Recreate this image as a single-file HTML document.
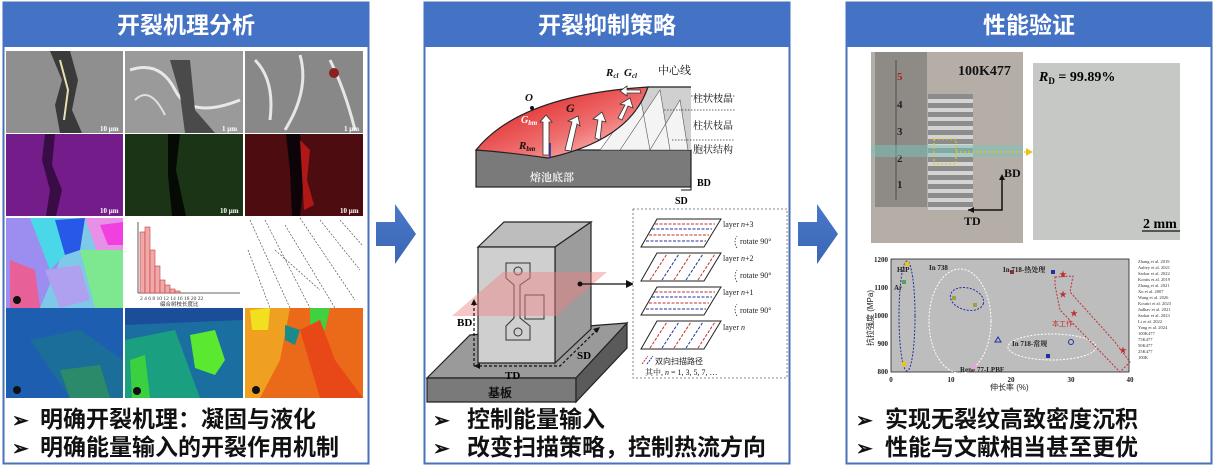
<!DOCTYPE html>
<html><head><meta charset="utf-8"><style>
html,body{margin:0;padding:0;background:#fff;}
body{width:1214px;height:469px;overflow:hidden;position:relative;font-family:"Liberation Sans","Noto Sans CJK SC",sans-serif;}
svg{position:absolute;left:0;top:0;}
.cn{font-family:"Liberation Sans","Noto Sans CJK SC",sans-serif;}
.sf{font-family:"Liberation Serif","Noto Serif CJK SC",serif;}
</style></head><body>
<svg width="1214" height="469" viewBox="0 0 1214 469" xmlns="http://www.w3.org/2000/svg">
<defs>
<linearGradient id="pool2" x1="0" y1="0" x2="1" y2="1"><stop offset="0" stop-color="#d80c0c"/><stop offset="0.6" stop-color="#f07070"/><stop offset="1" stop-color="#fde0e0"/></linearGradient>
<linearGradient id="arr" x1="0" y1="0" x2="0" y2="1"><stop offset="0" stop-color="#4a78c8"/><stop offset="1" stop-color="#3a66b4"/></linearGradient>
<pattern id="stripe" width="6" height="9" patternUnits="userSpaceOnUse"><rect width="6" height="9" fill="#8c8c8c"/><rect width="6" height="4" fill="#d4d4d4"/></pattern>
</defs>

<rect x="3.5" y="2.5" width="365" height="461" fill="#fff" stroke="#4a72b8" stroke-width="2"/>
<rect x="3" y="2" width="366" height="45" fill="#4472c4"/>
<text x="186" y="33" font-size="23" font-weight="bold" fill="#fff" text-anchor="middle" class="cn">开裂机理分析</text>

<rect x="424.5" y="2.5" width="365" height="461" fill="#fff" stroke="#4a72b8" stroke-width="2"/>
<rect x="424" y="2" width="366" height="45" fill="#4472c4"/>
<text x="607" y="33" font-size="23" font-weight="bold" fill="#fff" text-anchor="middle" class="cn">开裂抑制策略</text>

<rect x="846.5" y="2.5" width="365" height="461" fill="#fff" stroke="#4a72b8" stroke-width="2"/>
<rect x="846" y="2" width="366" height="45" fill="#4472c4"/>
<text x="1029" y="33" font-size="23" font-weight="bold" fill="#fff" text-anchor="middle" class="cn">性能验证</text>

<polygon points="376,222 395,222 395,204 416,234 395,264 395,246 376,246" fill="url(#arr)"/>
<polygon points="798,222 817,222 817,204 838,234 817,264 817,246 798,246" fill="url(#arr)"/>

<g>
<rect x="6" y="51" width="117" height="82" fill="#8f8f8f"/>
<path d="M50,51 L70,51 L78,80 L72,110 L82,133 L60,133 L55,105 L62,80 Z" fill="#3a3a3a"/>
<path d="M60,60 L68,90 L64,120" stroke="#e8e0b0" stroke-width="2" fill="none"/>
<rect x="125" y="51" width="118" height="82" fill="#9a9a9a"/>
<path d="M130,70 Q160,60 175,90 T240,100" stroke="#e8e8e8" stroke-width="3" fill="none"/>
<path d="M170,60 L190,60 L195,110 L215,133 L185,133 L180,95 Z" fill="#4a4a4a"/>
<path d="M135,100 Q150,85 165,115" stroke="#e0e0e0" stroke-width="2" fill="none"/>
<rect x="245" y="51" width="118" height="82" fill="#888"/>
<path d="M255,60 Q275,80 270,120 M300,55 Q310,90 285,130 M330,60 Q345,90 355,130" stroke="#e6e6e6" stroke-width="3" fill="none"/>
<circle cx="334" cy="73" r="5" fill="#8a2020"/>
<rect x="6" y="134" width="117" height="82" fill="#731c8a"/>
<path d="M45,134 L55,134 L52,165 L62,190 L56,216 L46,216 L50,190 L42,160 Z" fill="#3a0c45"/>
<rect x="125" y="134" width="118" height="82" fill="#1c3416"/>
<path d="M168,134 L180,134 L176,170 L186,216 L172,216 L168,175 Z" fill="#050a05"/>
<rect x="245" y="134" width="118" height="82" fill="#4c0c10"/>
<path d="M286,134 L300,134 L305,170 L300,216 L292,216 L290,170 Z" fill="#0c0408"/>
<path d="M300,140 L310,150 L307,180 L314,205 L304,210 Z" fill="#b01818"/>
<g font-size="7" fill="#fff" class="sf" font-weight="bold"><text x="100" y="213">10 μm</text><text x="220" y="213">10 μm</text><text x="340" y="213">10 μm</text><text x="100" y="131">10 μm</text><text x="222" y="131">1 μm</text><text x="344" y="131">1 μm</text></g>
<rect x="6" y="218" width="117" height="90" fill="#7ec8e8"/>
<polygon points="6,218 40,218 60,260 40,308 6,308" fill="#9b8ef0"/>
<polygon points="30,218 60,218 70,250 50,270" fill="#4ad8e8"/>
<polygon points="55,220 85,218 80,250 65,255" fill="#2858e8"/>
<polygon points="85,218 123,218 123,250 100,260" fill="#e890e8"/>
<polygon points="80,250 123,250 123,308 95,308" fill="#7ee890"/>
<polygon points="10,260 35,270 40,308 10,308" fill="#e86098"/>
<polygon points="45,270 80,265 90,300 60,308" fill="#b0a0f0"/>
<polygon points="100,225 123,222 123,245 108,245" fill="#f040e0"/>
<circle cx="17" cy="300" r="4" fill="#111"/>
<rect x="125" y="218" width="118" height="90" fill="#fff"/>
<line x1="138" y1="222" x2="138" y2="293" stroke="#333" stroke-width="0.8"/>
<line x1="138" y1="293" x2="240" y2="293" stroke="#333" stroke-width="0.8"/>
<g fill="#f0a8a8" stroke="#c04040" stroke-width="0.6">
<rect x="140" y="232" width="5" height="61"/><rect x="145" y="227" width="5" height="66"/><rect x="150" y="250" width="5" height="43"/><rect x="155" y="266" width="5" height="27"/><rect x="160" y="280" width="5" height="13"/><rect x="165" y="285" width="5" height="8"/><rect x="170" y="289" width="5" height="4"/><rect x="175" y="291" width="5" height="2"/></g>
<text x="140" y="300" font-size="5.5" fill="#333" class="sf">2 4 6 8 10 12 14 16 18 20 22</text>
<text x="160" y="306" font-size="5.5" fill="#333" class="cn">缀合树枝长度比</text>
<rect x="245" y="218" width="118" height="90" fill="#fff"/>
<g stroke="#555" stroke-width="0.7" stroke-dasharray="2 1.5" fill="none">
<path d="M250,220 L290,308"/><path d="M265,220 L310,308"/><path d="M285,225 L335,308"/><path d="M300,218 L355,300"/><path d="M320,220 L360,270"/><path d="M248,250 L270,308"/><path d="M340,220 L362,245"/><path d="M275,250 L320,290"/></g>
<rect x="6" y="308" width="117" height="90" fill="#1e5eb0"/>
<polygon points="30,340 80,330 123,360 123,398 70,398" fill="#1c6e9a"/>
<polygon points="60,370 100,365 110,398 70,398" fill="#2a8a6a"/>
<circle cx="17" cy="390" r="4" fill="#111"/>
<rect x="125" y="308" width="118" height="90" fill="#1a6ea0"/>
<polygon points="125,340 175,330 200,398 125,398" fill="#1aa080"/>
<polygon points="190,335 215,330 225,360 215,375 195,368" fill="#5ae830"/>
<polygon points="130,360 145,355 150,398 132,398" fill="#3ad040"/>
<polygon points="125,308 243,308 243,320 125,325" fill="#1a4e9a"/>
<circle cx="137" cy="391" r="4" fill="#111"/>
<rect x="245" y="308" width="118" height="90" fill="#ea6a1a"/>
<polygon points="245,308 290,308 280,360 260,398 245,398" fill="#f0a020"/>
<polygon points="250,310 270,308 268,330 252,330" fill="#f0e020"/>
<polygon points="310,308 330,308 325,330 310,325" fill="#40d040"/>
<polygon points="285,325 300,330 295,345 285,340" fill="#1a8a8a"/>
<polygon points="300,330 320,320 335,360 363,398 320,398" fill="#e84818"/>
<circle cx="256" cy="390" r="4" fill="#111"/>
</g>
<g font-size="23" font-weight="bold" fill="#111" class="cn">
<text x="12" y="427" font-size="20">➢</text><text x="40" y="427">明确开裂机理：凝固与液化</text>
<text x="12" y="455" font-size="20">➢</text><text x="40" y="455">明确能量输入的开裂作用机制</text>
</g>

<rect x="476" y="150" width="215" height="37" fill="#7a7a7a" stroke="#222" stroke-width="1.2"/>
<rect x="640" y="87" width="51" height="63" fill="#d0d0d0"/>
<path d="M600,150 L640,95 L650,150 Z M620,150 L660,90 L670,150 Z M650,150 L680,100 L688,150 Z" fill="#f4f4f4" stroke="#555" stroke-width="0.6"/>
<path d="M476,150 Q520,95 648,87 Q630,140 548,158 Q505,152 476,150 Z" fill="url(#pool2)" stroke="#222" stroke-width="1.2"/>
<line x1="648" y1="87" x2="691" y2="87" stroke="#222" stroke-width="1.2"/>
<g fill="#fff" stroke="#333" stroke-width="0.8">
<polygon points="543,155 543,122 540,122 546,115 552,122 549,122 549,155"/>
<polygon points="565,150 572,122 568,121 578,116 580,126 577,124 571,151"/>
<polygon points="595,138 598,120 593,119 602,112 606,122 602,121 600,140"/>
<polygon points="618,118 625,105 620,104 630,98 633,108 628,106 622,120"/>
<polygon points="640,90 627,90 627,86 620,91 627,96 627,93 641,93"/>
</g>
<line x1="550" y1="158" x2="550" y2="143" stroke="#1a2ab0" stroke-width="1.5"/>
<circle cx="532" cy="108" r="2" fill="#111"/>
<g class="sf" font-weight="bold" font-style="italic" fill="#111">
<text x="525" y="101" font-size="11">O</text>
<text x="566" y="112" font-size="12">G</text>
<text x="521" y="123" font-size="10" fill="#fff">G<tspan font-size="7" dy="2">bm</tspan></text>
<text x="519" y="149" font-size="11">R<tspan font-size="7" dy="2">bm</tspan></text>
<text x="606" y="76" font-size="11">R<tspan font-size="7" dy="2">cl</tspan></text>
<text x="624" y="76" font-size="11">G<tspan font-size="7" dy="2">cl</tspan></text>
</g>
<text x="530" y="181" font-size="11" font-weight="bold" fill="#eee" class="sf">熔池底部</text>
<text x="658" y="74" font-size="11" fill="#111" class="sf">中心线</text>
<g stroke="#333" stroke-width="0.8" stroke-dasharray="1.5 1.5"><line x1="691" y1="96" x2="735" y2="96"/><line x1="664" y1="110" x2="735" y2="110"/><line x1="672" y1="140" x2="735" y2="140"/></g>
<g font-size="10" fill="#111" class="sf"><text x="693" y="102">柱状枝晶</text><text x="693" y="129">柱状枝晶</text><text x="693" y="153">胞状结构</text></g>
<path d="M681,190 L691,190 L691,178" fill="none" stroke="#111" stroke-width="1"/>
<text x="697" y="186" font-size="10" font-weight="bold" class="sf">BD</text>
<text x="675" y="204" font-size="10" font-weight="bold" class="sf">SD</text>

<polygon points="427,378 470,335 627,323 576,378" fill="#9a9a9a" stroke="#222" stroke-width="1.2"/>
<polygon points="427,378 576,378 576,402 427,402" fill="#7a7a7a" stroke="#222" stroke-width="1.2"/>
<polygon points="576,378 627,323 627,348 576,402" fill="#5a5a5a" stroke="#222" stroke-width="1.2"/>
<text x="488" y="397" font-size="12" font-weight="bold" fill="#111" class="cn">基板</text>
<polygon points="478,247 504,222 591,222 555,247" fill="#bdbdbd" stroke="#222" stroke-width="1.2"/>
<polygon points="555,247 591,222 591,329 555,363" fill="#9c9c9c" stroke="#222" stroke-width="1.2"/>
<rect x="478" y="247" width="77" height="116" fill="#cfcfcf" stroke="#222" stroke-width="1.2"/>
<path d="M506,263 L530,263 L530,278 L520,285 L520,318 L530,326 L530,340 L506,340 L506,326 L514,318 L514,285 L506,278 Z" fill="none" stroke="#333" stroke-width="1"/>
<circle cx="518" cy="271" r="4" fill="none" stroke="#333"/><circle cx="518" cy="332" r="4" fill="none" stroke="#333"/>
<rect x="525" y="295" width="19" height="24" fill="none" stroke="#333"/>
<polygon points="452,316 556,316 607,272 503,272" fill="#f08080" opacity="0.45"/>
<path d="M474,366 L474,303" stroke="#111" stroke-width="1.2" stroke-dasharray="3 2"/><polygon points="471,305 477,305 474,299" fill="#111"/>
<path d="M474,366 L560,366 L597,330" stroke="#111" stroke-width="1.2" stroke-dasharray="3 2" fill="none"/>
<polygon points="474,366 480,363 480,369" fill="#111"/><polygon points="600,327 593,329 597,333" fill="#111"/>
<g font-size="11" font-weight="bold" class="sf"><text x="457" y="326">BD</text><text x="505" y="379">TD</text><text x="577" y="359">SD</text></g>
<circle cx="580" cy="284" r="2.5" fill="#111"/><line x1="580" y1="284" x2="628" y2="284" stroke="#111" stroke-width="1.2"/><polygon points="634,284 626,280 626,288" fill="#111"/>
<rect x="633" y="209" width="154" height="169" fill="#fff" stroke="#666" stroke-width="0.8" stroke-dasharray="2 2"/>
<g stroke="#222" stroke-width="1" fill="#fff">
<polygon points="641,247 657,219 721,219 704,247"/>
<polygon points="641,281 657,253 721,253 704,281"/>
<polygon points="641,315 657,287 721,287 704,315"/>
<polygon points="641,349 657,321 721,321 704,349"/>
</g>
<g stroke-width="1" stroke-dasharray="3 1.5">
<line x1="655" y1="224" x2="715" y2="224" stroke="#c03030"/><line x1="652" y1="229" x2="712" y2="229" stroke="#2030a0"/><line x1="649" y1="235" x2="709" y2="235" stroke="#c03030"/><line x1="646" y1="241" x2="706" y2="241" stroke="#2030a0"/>
<line x1="655" y1="292" x2="715" y2="292" stroke="#c03030"/><line x1="652" y1="297" x2="712" y2="297" stroke="#2030a0"/><line x1="649" y1="303" x2="709" y2="303" stroke="#c03030"/><line x1="646" y1="309" x2="706" y2="309" stroke="#2030a0"/>
<line x1="650" y1="280" x2="667" y2="254" stroke="#c03030"/><line x1="662" y1="280" x2="679" y2="254" stroke="#2030a0"/><line x1="674" y1="280" x2="691" y2="254" stroke="#c03030"/><line x1="686" y1="280" x2="703" y2="254" stroke="#2030a0"/><line x1="698" y1="280" x2="715" y2="254" stroke="#c03030"/>
<line x1="650" y1="348" x2="667" y2="322" stroke="#c03030"/><line x1="662" y1="348" x2="679" y2="322" stroke="#2030a0"/><line x1="674" y1="348" x2="691" y2="322" stroke="#c03030"/><line x1="686" y1="348" x2="703" y2="322" stroke="#2030a0"/><line x1="698" y1="348" x2="715" y2="322" stroke="#c03030"/>
</g>
<g font-size="8" fill="#222" class="sf">
<text x="723" y="227">layer <tspan font-style="italic">n</tspan>+3</text>
<text x="740" y="244">rotate 90°</text>
<text x="723" y="261">layer <tspan font-style="italic">n</tspan>+2</text>
<text x="740" y="278">rotate 90°</text>
<text x="723" y="295">layer <tspan font-style="italic">n</tspan>+1</text>
<text x="740" y="313">rotate 90°</text>
<text x="723" y="330">layer <tspan font-style="italic">n</tspan></text>
<text x="645" y="375">其中, <tspan font-style="italic">n</tspan> = 1, 3, 5, 7, …</text>
</g>
<g stroke="#333" stroke-width="0.8" stroke-dasharray="1.5 1.5" fill="none"><path d="M737,248 Q733,242 737,236"/><path d="M737,282 Q733,276 737,270"/><path d="M737,316 Q733,310 737,304"/></g>
<line x1="642" y1="364" x2="648" y2="356" stroke="#c03030" stroke-dasharray="2 1"/><line x1="647" y1="364" x2="653" y2="356" stroke="#2030a0" stroke-dasharray="2 1"/>
<text x="655" y="364" font-size="8" fill="#222" class="cn">双向扫描路径</text>
<g font-size="23" font-weight="bold" fill="#111" class="cn">
<text x="433" y="427" font-size="20">➢</text><text x="467" y="427">控制能量输入</text>
<text x="433" y="455" font-size="20">➢</text><text x="467" y="455">改变扫描策略，控制热流方向</text>
</g>

<rect x="871" y="52" width="152" height="191" fill="#b4aea6"/>
<rect x="875" y="52" width="52" height="155" fill="#8e8a86"/>
<line x1="896" y1="60" x2="896" y2="200" stroke="#222" stroke-width="0.6"/>
<g font-size="11" font-weight="bold" fill="#222" class="sf"><text x="897" y="80" fill="#b02020">5</text><text x="897" y="108">4</text><text x="897" y="135">3</text><text x="897" y="162">2</text><text x="897" y="188">1</text></g>
<rect x="928" y="94" width="45" height="116" fill="url(#stripe)"/>
<rect x="871" y="145" width="152" height="12" fill="#7ac4b8" opacity="0.5"/>
<rect x="934" y="139" width="22" height="25" fill="none" stroke="#f0c020" stroke-width="1.2" stroke-dasharray="2 2"/>
<line x1="956" y1="152" x2="1028" y2="152" stroke="#f0c020" stroke-width="1.2" stroke-dasharray="2 2"/>
<polygon points="1033,152 1026,148 1026,156" fill="#f0c020"/>
<path d="M968,210 L1002,210 L1002,178" fill="none" stroke="#111" stroke-width="1.5"/>
<polygon points="968,210 974,207 974,213" fill="#111"/><polygon points="1002,174 999,180 1005,180" fill="#111"/>
<g font-size="12" font-weight="bold" fill="#111" class="sf"><text x="1004" y="177">BD</text><text x="964" y="225">TD</text><text x="958" y="75" font-size="14">100K477</text></g>
<rect x="1033" y="63" width="147" height="177" fill="#c6c8c6"/>
<text x="1039" y="81" font-size="14" font-weight="bold" class="sf"><tspan font-style="italic">R</tspan><tspan font-size="9" dy="3">D</tspan><tspan dy="-3"> = 99.89%</tspan></text>
<text x="1143" y="228" font-size="14" font-weight="bold" class="sf">2 mm</text>
<line x1="1142" y1="231" x2="1180" y2="231" stroke="#111" stroke-width="1.2"/>
<rect x="891" y="259" width="238" height="113" fill="#bdbdbd" stroke="#222" stroke-width="0.8"/>
<g font-size="7" font-weight="bold" class="sf" fill="#222">
<text x="888" y="262" text-anchor="end">1200</text><text x="888" y="290" text-anchor="end">1100</text><text x="888" y="318" text-anchor="end">1000</text><text x="888" y="346" text-anchor="end">900</text><text x="888" y="374" text-anchor="end">800</text>
<text x="891" y="382" text-anchor="middle">0</text><text x="951" y="382" text-anchor="middle">10</text><text x="1011" y="382" text-anchor="middle">20</text><text x="1071" y="382" text-anchor="middle">30</text><text x="1130" y="382" text-anchor="middle">40</text>
</g>
<text x="990" y="390" font-size="8" class="cn" fill="#222">伸长率 (%)</text>
<text transform="translate(873,346) rotate(-90)" font-size="8" class="cn" fill="#222">抗拉强度 (MPa)</text>
<g fill="none" stroke-width="1" stroke-dasharray="2 1.5">
<ellipse cx="907" cy="316" rx="8" ry="55" stroke="#2030a0"/>
<ellipse cx="960" cy="321" rx="31" ry="52" stroke="#fff"/>
<ellipse cx="967" cy="299" rx="17" ry="11" stroke="#2030a0" transform="rotate(15 967 299)"/>
<ellipse cx="1052" cy="347" rx="44" ry="13" stroke="#fff"/>
<path d="M1055,277 L1073,276 L1070,292 L1115,342 L1130,362 L1120,372 L1060,310 L1055,285 Z" stroke="#c03030"/>
</g>
<g font-size="7" font-weight="bold" class="sf" fill="#222"><text x="897" y="272">HIP</text><text x="894" y="290">Ar</text><text x="929" y="270">In 738</text><text x="1003" y="272">In 718-热处理</text><text x="1012" y="346">In 718-常规</text><text x="960" y="372">Rene 77-LPBF</text></g>
<g font-size="7" fill="#c03030" class="cn"><text x="1052" y="326">本工作</text></g>
<g>
<circle cx="907" cy="264" r="2.5" fill="#f0c020"/><circle cx="904" cy="364" r="2.5" fill="#f0c020"/><rect x="902" y="280" width="4" height="4" fill="#5aa050"/>
<rect x="952" y="296" width="4" height="4" fill="#a0a040"/><rect x="973" y="303" width="4" height="4" fill="#a0a040"/>
<rect x="1010" y="270" width="4" height="4" fill="#8a3030"/><rect x="1051" y="270" width="4" height="4" fill="#2030a0"/><rect x="1046" y="354" width="4" height="4" fill="#2030a0"/>
<circle cx="1071" cy="342" r="2.5" fill="none" stroke="#2030a0"/><polygon points="998,337 995,342 1001,342" fill="none" stroke="#2030a0"/>
<text x="1059" y="277" font-size="8" fill="#c03030">★</text><text x="1059" y="297" font-size="8" fill="#c03030">★</text><text x="1070" y="316" font-size="8" fill="#c03030">★</text><text x="1119" y="353" font-size="8" fill="#c03030">★</text>
<circle cx="975" cy="367" r="2.5" fill="#f0a0e0"/>
</g>
<g font-size="4.5" fill="#333" class="sf">
<text x="1138" y="263">Zhang et al. 2019</text><text x="1138" y="269">Aaltey et al. 2021</text><text x="1138" y="275">Sarkar et al. 2022</text><text x="1138" y="281">Kontis et al. 2019</text><text x="1138" y="287">Zhang et al. 2021</text><text x="1138" y="293">Xu et al. 2007</text><text x="1138" y="299">Wang et al. 2026</text><text x="1138" y="305">Koutiri et al. 2023</text><text x="1138" y="311">Jadhav et al. 2021</text><text x="1138" y="317">Sarkar et al. 2023</text><text x="1138" y="323">Li et al. 2022</text><text x="1138" y="329">Yang et al. 2024</text><text x="1138" y="335">100K477</text><text x="1138" y="341">75K477</text><text x="1138" y="347">50K477</text><text x="1138" y="353">25K477</text><text x="1138" y="359">100K</text>
</g>
<g font-size="23" font-weight="bold" fill="#111" class="cn">
<text x="856" y="427" font-size="20">➢</text><text x="885" y="427">实现无裂纹高致密度沉积</text>
<text x="856" y="455" font-size="20">➢</text><text x="885" y="455">性能与文献相当甚至更优</text>
</g>
</svg>
</body></html>
